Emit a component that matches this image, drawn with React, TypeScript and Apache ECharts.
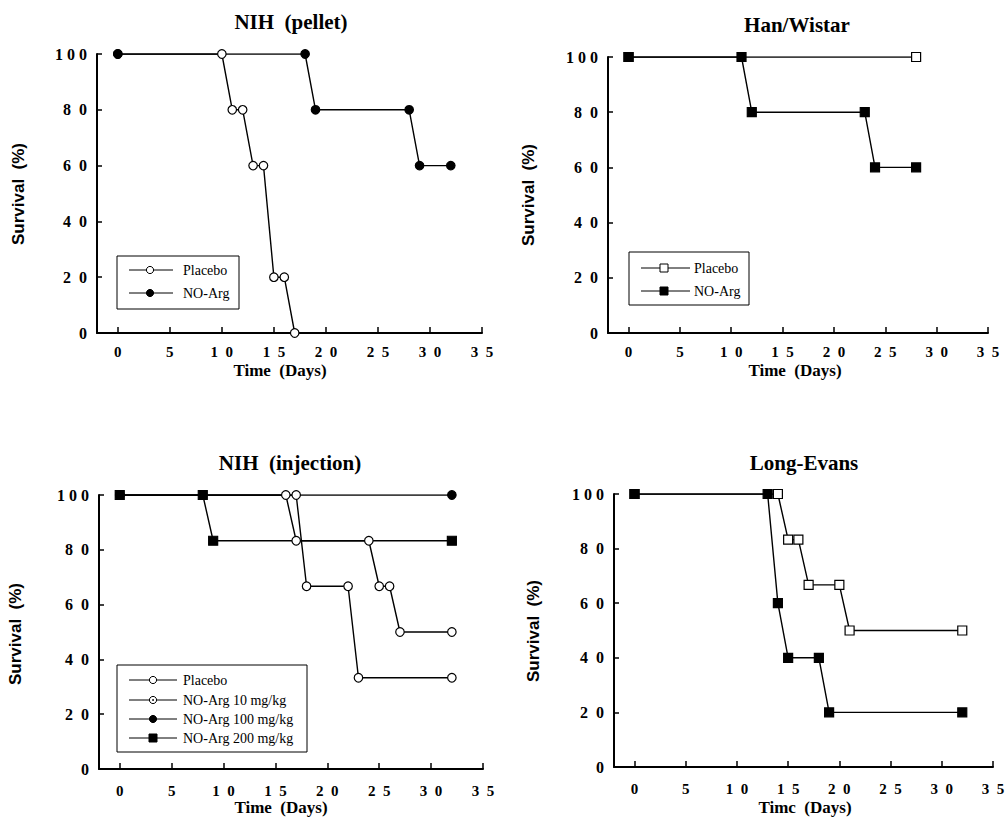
import React, { useEffect, useRef } from "react";
import * as echarts from "echarts";

// ---- tick labels ----
const xTickValues = [0, 5, 10, 15, 20, 25, 30, 35];
const xTickLabels = ["0", "5", "1\u20020", "1\u20025", "2\u20020", "2\u20025", "3\u20020", "3\u20025"];
const yTickValues = [0, 20, 40, 60, 80, 100];
const yTickLabels = ["0", "2\u20020", "4\u20020", "6\u20020", "8\u20020", "1\u00A00\u00A00"];

// ---- panel titles ----
const panelTitles = ["NIH\u00A0\u00A0(pellet)", "Han/Wistar", "NIH\u00A0\u00A0(injection)", "Long-Evans"];
const yAxisName = "Survival\u00A0\u00A0(%)";
const xAxisName = "Time\u00A0\u00A0(Days)";
const xAxisNameLong = "Timc\u00A0\u00A0(Days)";

// ---- NIH (pellet) ----
const pelletPlacebo: [number, number][] = [[0, 100], [10, 100], [11, 80], [12, 80], [13, 60], [14, 60], [15, 20], [16, 20], [17, 0]];
const pelletNOArg: [number, number][] = [[0, 100], [18, 100], [19, 80], [28, 80], [29, 60], [32, 60]];

// ---- Han/Wistar ----
const hanPlacebo: [number, number][] = [[0, 100], [28, 100]];
const hanNOArg: [number, number][] = [[0, 100], [11, 100], [12, 80], [23, 80], [24, 60], [28, 60]];

// ---- NIH (injection) ----
const injPlacebo: [number, number][] = [[0, 100], [16, 100], [17, 83.3], [24, 83.3], [25, 66.7], [26, 66.7], [27, 50], [32, 50]];
const inj10: [number, number][] = [[0, 100], [17, 100], [18, 66.7], [22, 66.7], [23, 33.3], [32, 33.3]];
const inj100: [number, number][] = [[0, 100], [32, 100]];
const inj200: [number, number][] = [[0, 100], [8, 100], [9, 83.3], [32, 83.3]];

// ---- Long-Evans ----
const lePlacebo: [number, number][] = [[0, 100], [14, 100], [15, 83.3], [16, 83.3], [17, 66.7], [20, 66.7], [21, 50], [32, 50]];
const leNOArg: [number, number][] = [[0, 100], [13, 100], [14, 60], [15, 40], [18, 40], [19, 20], [32, 20]];

// ---- legend labels ----
const legend2 = ["Placebo", "NO-Arg"];
const legend4 = ["Placebo", "NO-Arg 10 mg/kg", "NO-Arg 100 mg/kg", "NO-Arg 200 mg/kg"];

const SERIF = '"Liberation Serif", "Times New Roman", serif';
const SANS = '"Liberation Sans", Arial, sans-serif';

const grids = [
  { left: 97, top: 54, width: 385, height: 279 },
  { left: 608, top: 57, width: 380, height: 276 },
  { left: 99, top: 495, width: 384, height: 274 },
  { left: 614, top: 494, width: 379, height: 273 },
];
const labelMargins = [11, 11, 14, 14];

type Mk = "openCircle" | "filledCircle" | "dotCircle" | "openSquare" | "filledSquare";

function lineSeries(idx: number, data: [number, number][], mk: Mk) {
  const isSquare = mk === "openSquare" || mk === "filledSquare";
  const filled = mk === "filledCircle" || mk === "filledSquare";
  return {
    type: "line",
    xAxisIndex: idx,
    yAxisIndex: idx,
    data,
    symbol: isSquare ? "rect" : "circle",
    symbolSize: isSquare ? 9 : 8.5,
    showSymbol: true,
    showAllSymbol: true,
    silent: true,
    lineStyle: { color: "#000", width: 1.4 },
    itemStyle: { color: filled ? "#000" : "#fff", borderColor: "#000", borderWidth: 1.2 },
    emphasis: { disabled: true },
  };
}

function dotSeries(idx: number, data: [number, number][]) {
  return {
    type: "scatter",
    xAxisIndex: idx,
    yAxisIndex: idx,
    data,
    symbol: "circle",
    symbolSize: 2.2,
    silent: true,
    itemStyle: { color: "#000" },
    emphasis: { disabled: true },
  };
}

function marker(mk: Mk, cx: number, cy: number) {
  const els: any[] = [];
  const filled = mk === "filledCircle" || mk === "filledSquare";
  const style = { fill: filled ? "#000" : "#fff", stroke: "#000", lineWidth: 1 };
  if (mk === "openSquare" || mk === "filledSquare") {
    els.push({ type: "rect", z: 12, shape: { x: cx - 4, y: cy - 4, width: 8, height: 8 }, style });
  } else {
    els.push({ type: "circle", z: 12, shape: { cx, cy, r: 3.6 }, style });
    if (mk === "dotCircle") {
      els.push({ type: "circle", z: 13, shape: { cx, cy, r: 0.9 }, style: { fill: "#000" } });
    }
  }
  return els;
}

function legendBox(
  box: { x: number; y: number; w: number; h: number },
  rows: number[],
  lineX: [number, number],
  markX: number,
  textX: number,
  labels: string[],
  marks: Mk[]
) {
  const els: any[] = [
    {
      type: "rect",
      z: 10,
      shape: { x: box.x, y: box.y, width: box.w, height: box.h },
      style: { fill: "#fff", stroke: "#000", lineWidth: 1 },
    },
  ];
  labels.forEach((lab, i) => {
    const y = rows[i];
    els.push({ type: "line", z: 11, shape: { x1: lineX[0], y1: y, x2: lineX[1], y2: y }, style: { stroke: "#000", lineWidth: 1 } });
    els.push(...marker(marks[i], markX, y));
    els.push({
      type: "text",
      z: 12,
      x: textX,
      y,
      style: { text: lab, fontFamily: SERIF, fontSize: 14, fill: "#000", align: "left", verticalAlign: "middle" },
    });
  });
  return els;
}

function textEl(text: string, x: number, y: number, size: number, family: string, rotate = false) {
  return {
    type: "text",
    z: 10,
    x,
    y,
    rotation: rotate ? Math.PI / 2 : 0,
    style: { text, fontFamily: family, fontSize: size, fontWeight: "bold", fill: "#000", align: "center", verticalAlign: "middle" },
  };
}

export default function App() {
  const ref = useRef<HTMLDivElement>(null);
  useEffect(() => {
    if (!ref.current) return;
    const chart = echarts.init(ref.current, undefined, { renderer: "svg" });

    const xAxes = grids.map((_, i) => ({
      type: "value",
      gridIndex: i,
      min: -2,
      max: 35,
      splitLine: { show: false },
      axisLine: { show: true, onZero: false, lineStyle: { color: "#000", width: 2 } },
      axisTick: { show: true, inside: true, length: 6, customValues: xTickValues, lineStyle: { color: "#000", width: 1.5 } },
      axisLabel: {
        show: true,
        customValues: xTickValues,
        margin: labelMargins[i],
        color: "#000",
        fontFamily: SERIF,
        fontWeight: "bold",
        fontSize: 15,
        formatter: (v: number) => xTickLabels[xTickValues.indexOf(v)] ?? "",
      },
    }));
    const yAxes = grids.map((_, i) => ({
      type: "value",
      gridIndex: i,
      min: 0,
      max: 100,
      interval: 20,
      splitLine: { show: false },
      axisLine: { show: true, onZero: false, lineStyle: { color: "#000", width: 2 } },
      axisTick: { show: true, inside: true, length: 5, lineStyle: { color: "#000", width: 1.5 } },
      axisLabel: {
        show: true,
        margin: 10,
        color: "#000",
        fontFamily: SERIF,
        fontWeight: "bold",
        fontSize: 16,
        formatter: (v: number) => yTickLabels[yTickValues.indexOf(v)] ?? "",
      },
    }));

    const graphic: any[] = [
      textEl(panelTitles[0], 291, 22, 21, SERIF),
      textEl(panelTitles[1], 797, 25, 21, SERIF),
      textEl(panelTitles[2], 290, 463, 21, SERIF),
      textEl(panelTitles[3], 804, 463, 21, SERIF),
      textEl(yAxisName, 18, 194, 17, SANS, true),
      textEl(yAxisName, 528, 195, 17, SANS, true),
      textEl(yAxisName, 15, 634, 17, SANS, true),
      textEl(yAxisName, 533, 631, 17, SANS, true),
      textEl(xAxisName, 280, 370, 17, SERIF),
      textEl(xAxisName, 795, 370, 17, SERIF),
      textEl(xAxisName, 281, 807, 17, SERIF),
      textEl(xAxisNameLong, 805, 807, 17, SERIF),
      ...legendBox({ x: 117, y: 256, w: 122, h: 53 }, [270, 293], [129, 173], 150, 183, legend2, ["openCircle", "filledCircle"]),
      ...legendBox({ x: 629, y: 252, w: 120, h: 53 }, [268, 291], [641, 690], 664, 694, legend2, ["openSquare", "filledSquare"]),
      ...legendBox(
        { x: 117, y: 665, w: 190, h: 87 },
        [680, 700, 719, 738],
        [129, 177],
        153,
        183,
        legend4,
        ["openCircle", "dotCircle", "filledCircle", "filledSquare"]
      ),
    ];

    const series: any[] = [
      lineSeries(0, pelletPlacebo, "openCircle"),
      lineSeries(0, pelletNOArg, "filledCircle"),
      lineSeries(1, hanPlacebo, "openSquare"),
      lineSeries(1, hanNOArg, "filledSquare"),
      lineSeries(2, injPlacebo, "openCircle"),
      lineSeries(2, inj10, "openCircle"),
      dotSeries(2, inj10.slice(1)),
      lineSeries(2, inj100, "filledCircle"),
      lineSeries(2, inj200, "filledSquare"),
      lineSeries(3, lePlacebo, "openSquare"),
      lineSeries(3, leNOArg, "filledSquare"),
    ];

    chart.setOption({
      animation: false,
      backgroundColor: "#fff",
      grid: grids.map((g) => ({ ...g, containLabel: false })),
      xAxis: xAxes,
      yAxis: yAxes,
      series,
      graphic,
    });
    return () => chart.dispose();
  }, []);
  return <div ref={ref} style={{ position: "fixed", left: 0, top: 0, width: 1008, height: 818 }} />;
}
